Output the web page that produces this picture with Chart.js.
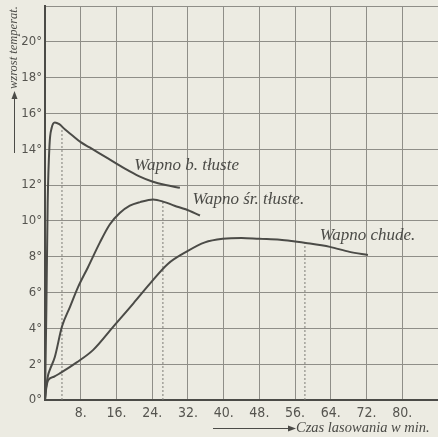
<!DOCTYPE html>
<html>
<head>
<meta charset="utf-8">
<script src="https://cdn.jsdelivr.net/npm/chart.js@4"></script>
<style>
  html, body { margin: 0; padding: 0; background: #ecebe2; }
  #box { width: 438px; height: 437px; }
</style>
</head>
<body>
<div id="box"><canvas id="lime"></canvas></div>
<script>
// slaking curves (minutes, degrees)
const veryFatX = [0, 0.3, 0.6, 1.0, 1.5, 2.2, 3.2, 4.5, 6, 8, 10, 12, 14, 16, 18, 21, 24, 27, 30.2];
const veryFatY = [0, 5, 11, 14.2, 15.2, 15.5, 15.4, 15.1, 14.8, 14.4, 14.1, 13.8, 13.5, 13.2, 12.9, 12.5, 12.2, 12.0, 11.85];
const mediumX = [0, 0.3, 0.7, 1.1, 2.2, 3.8, 5.6, 7.4, 9.6, 12.3, 14.5, 16.8, 19, 21.3, 24.2, 26.8, 29, 31.5, 34.7];
const mediumY = [0, 0.8, 1.4, 1.7, 2.4, 4.1, 5.2, 6.3, 7.4, 8.8, 9.8, 10.45, 10.85, 11.05, 11.2, 11.05, 10.85, 10.65, 10.3];
const leanX = [0, 0.3, 0.7, 2, 3.4, 7.1, 10.8, 15.3, 19.8, 23.5, 27.5, 31.8, 35.8, 39.8, 44, 48, 52.6, 56, 58.4, 63.8, 68.2, 72.3];
const leanY = [0, 0.7, 1.1, 1.3, 1.5, 2.1, 2.8, 4.1, 5.4, 6.5, 7.6, 8.3, 8.8, 9.0, 9.05, 9.0, 8.95, 8.85, 8.77, 8.55, 8.27, 8.1];

// dotted verticals: [minute, top value]
const markers = [[3.8, 15.1], [26.4, 11.1], [58.2, 8.8]];

// curve names and where they are written (minute, degrees)
const curveNames = ['Wapno b. tłuste', 'Wapno śr. tłuste.', 'Wapno chude.'];
const nameX = [20, 33, 61.5];
const nameY = [13.1, 11.2, 9.2];

const xTicks = [8, 16, 24, 32, 40, 48, 56, 64, 72, 80];
const yTicks = [0, 2, 4, 6, 8, 10, 12, 14, 16, 18, 20];
const xTitle = 'Czas lasowania w min.';
const yTitle = 'wzrost temperat.';

const ink = '#4b4b47';
const gridInk = '#8f8e88';
const textFont = '"DejaVu Sans Condensed", sans-serif';

const pts = (xs, ys) => xs.map((x, i) => ({ x: x, y: ys[i] }));

const curve = (xs, ys) => ({
  data: pts(xs, ys),
  borderColor: ink,
  borderWidth: 2,
  pointRadius: 0,
  cubicInterpolationMode: 'monotone',
  fill: false
});

const dotted = markers.map(m => ({
  data: [{ x: m[0], y: 0 }, { x: m[0], y: m[1] }],
  borderColor: '#7d7c76',
  borderWidth: 1,
  borderDash: [2, 2],
  pointRadius: 0,
  fill: false
}));

// titles, arrows and curve names
const notes = {
  id: 'notes',
  afterDraw(chart) {
    const ctx = chart.ctx;
    const xs = chart.scales.x, ys = chart.scales.y;
    ctx.save();
    ctx.fillStyle = ink;
    ctx.strokeStyle = ink;
    ctx.lineWidth = 1;

    ctx.font = 'italic 17px "Liberation Serif", serif';
    ctx.textBaseline = 'middle';
    ctx.textAlign = 'left';
    curveNames.forEach((n, i) => {
      ctx.fillText(n, xs.getPixelForValue(nameX[i]), ys.getPixelForValue(nameY[i]));
    });

    // x title with arrow
    ctx.beginPath();
    ctx.moveTo(213, 428.5);
    ctx.lineTo(292, 428.5);
    ctx.stroke();
    ctx.beginPath();
    ctx.moveTo(296, 428.5);
    ctx.lineTo(288, 425.5);
    ctx.lineTo(288, 431.5);
    ctx.closePath();
    ctx.fill();
    ctx.font = 'italic 14.5px "Liberation Serif", serif';
    ctx.fillText(xTitle, 296, 428);

    // y title with arrow
    ctx.beginPath();
    ctx.moveTo(14.5, 153);
    ctx.lineTo(14.5, 96);
    ctx.stroke();
    ctx.beginPath();
    ctx.moveTo(14.5, 91);
    ctx.lineTo(11.5, 99);
    ctx.lineTo(17.5, 99);
    ctx.closePath();
    ctx.fill();
    ctx.translate(14, 89);
    ctx.rotate(-Math.PI / 2);
    ctx.font = 'italic 12.5px "Liberation Serif", serif';
    ctx.fillText(yTitle, 0, 0);
    ctx.restore();
  }
};

new Chart(document.getElementById('lime'), {
  type: 'line',
  data: {
    datasets: [curve(veryFatX, veryFatY), curve(mediumX, mediumY), curve(leanX, leanY)].concat(dotted)
  },
  options: {
    responsive: true,
    maintainAspectRatio: false,
    animation: false,
    layout: { padding: { top: 6, right: 0, left: 0, bottom: 0 } },
    plugins: { legend: { display: false }, tooltip: { enabled: false } },
    scales: {
      x: {
        type: 'linear',
        min: 0,
        max: 88,
        afterFit: s => { s.height = 37; s.paddingLeft = 0; s.paddingRight = 0; },
        afterBuildTicks: s => { s.ticks = [0].concat(xTicks, [88]).map(v => ({ value: v })); },
        ticks: {
          color: '#55544f',
          font: { family: textFont, size: 14 },
          padding: 5,
          maxRotation: 0,
          autoSkip: false,
          callback: v => xTicks.includes(v) ? v + '.' : ''
        },
        grid: {
          drawTicks: false,
          color: c => c.tick && c.tick.value === 88 ? 'rgba(0,0,0,0)' : gridInk,
          lineWidth: 1
        },
        border: { display: true, color: ink, width: 2 }
      },
      y: {
        type: 'linear',
        min: 0,
        max: 22,
        afterFit: s => { s.width = 45; s.paddingTop = 0; s.paddingBottom = 0; },
        afterBuildTicks: s => { s.ticks = yTicks.concat([22]).map(v => ({ value: v })); },
        ticks: {
          color: '#55544f',
          font: { family: textFont, size: 13 },
          padding: 3,
          autoSkip: false,
          callback: v => yTicks.includes(v) ? v + '°' : ''
        },
        grid: { drawTicks: false, color: gridInk, lineWidth: 1 },
        border: { display: true, color: ink, width: 2 }
      }
    }
  },
  plugins: [notes]
});
</script>
</body>
</html>
